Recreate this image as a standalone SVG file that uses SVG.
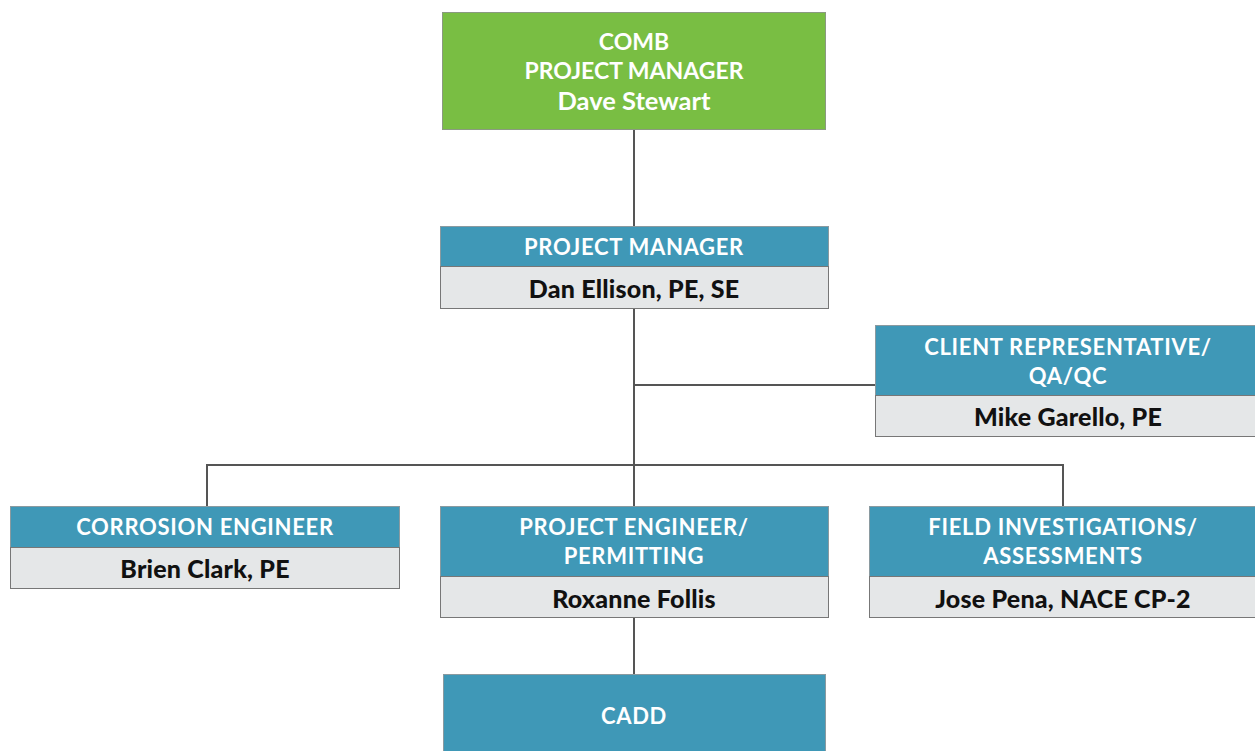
<svg xmlns="http://www.w3.org/2000/svg" width="1255" height="751" viewBox="0 0 1255 751">
<style>
.hd{fill:#3f98b7;stroke:#8a9aa0;stroke-width:1}
.nm{fill:#e5e7e8;stroke:#777;stroke-width:1}
.gr{fill:#79be43;stroke:#8a9a80;stroke-width:1}
.th{font-family:Lato,"Open Sans",sans-serif;font-weight:bold;font-size:22px;letter-spacing:0.7px;fill:#fff;text-anchor:middle}
.tn{font-family:Lato,"Open Sans",sans-serif;font-weight:900;font-size:25px;letter-spacing:0.2px;fill:#111;text-anchor:middle}
.tg{font-family:Lato,"Open Sans",sans-serif;font-weight:bold;font-size:23px;fill:#fff;text-anchor:middle}
.cn{fill:none;stroke:#555;stroke-width:2}
</style>
<rect width="1255" height="751" fill="#fff"/>
<g id="connectors">
<path class="cn" d="M634 129V226M634 308V506M634 385H875M207 506V465H1063V506M634 618V674"/>
</g>
<g id="comb-pm">
<rect class="gr" x="442.5" y="12.5" width="383" height="117"/>
<text class="tg" x="634" y="50">COMB</text>
<text class="tg" x="634" y="79">PROJECT MANAGER</text>
<text class="tg" x="634" y="110" style="font-size:25.5px">Dave Stewart</text>
</g>
<g id="pm">
<rect class="hd" x="440.5" y="226.5" width="388" height="40"/>
<rect class="nm" x="440.5" y="266.5" width="388" height="42"/>
<text class="th" x="634" y="255">PROJECT MANAGER</text>
<text class="tn" x="634" y="298">Dan Ellison, PE, SE</text>
</g>
<g id="client-rep">
<rect class="hd" x="875.5" y="325.5" width="380" height="70"/>
<rect class="nm" x="875.5" y="395.5" width="380" height="41"/>
<text class="th" x="1068" y="355">CLIENT REPRESENTATIVE/</text>
<text class="th" x="1068" y="384">QA/QC</text>
<text class="tn" x="1068" y="426">Mike Garello, PE</text>
</g>
<g id="corrosion">
<rect class="hd" x="10.5" y="506.5" width="389" height="41"/>
<rect class="nm" x="10.5" y="547.5" width="389" height="41"/>
<text class="th" x="205" y="535">CORROSION ENGINEER</text>
<text class="tn" x="205" y="578">Brien Clark, PE</text>
</g>
<g id="project-engineer">
<rect class="hd" x="440.5" y="506.5" width="388" height="70"/>
<rect class="nm" x="440.5" y="576.5" width="388" height="41"/>
<text class="th" x="634" y="535">PROJECT ENGINEER/</text>
<text class="th" x="634" y="564">PERMITTING</text>
<text class="tn" x="634" y="608">Roxanne Follis</text>
</g>
<g id="field">
<rect class="hd" x="869.5" y="506.5" width="387" height="70"/>
<rect class="nm" x="869.5" y="576.5" width="387" height="41"/>
<text class="th" x="1063" y="535">FIELD INVESTIGATIONS/</text>
<text class="th" x="1063" y="564">ASSESSMENTS</text>
<text class="tn" x="1063" y="608">Jose Pena, NACE CP-2</text>
</g>
<g id="cadd">
<rect class="hd" x="443.5" y="674.5" width="382" height="80"/>
<text class="th" x="634" y="724">CADD</text>
</g>
</svg>
